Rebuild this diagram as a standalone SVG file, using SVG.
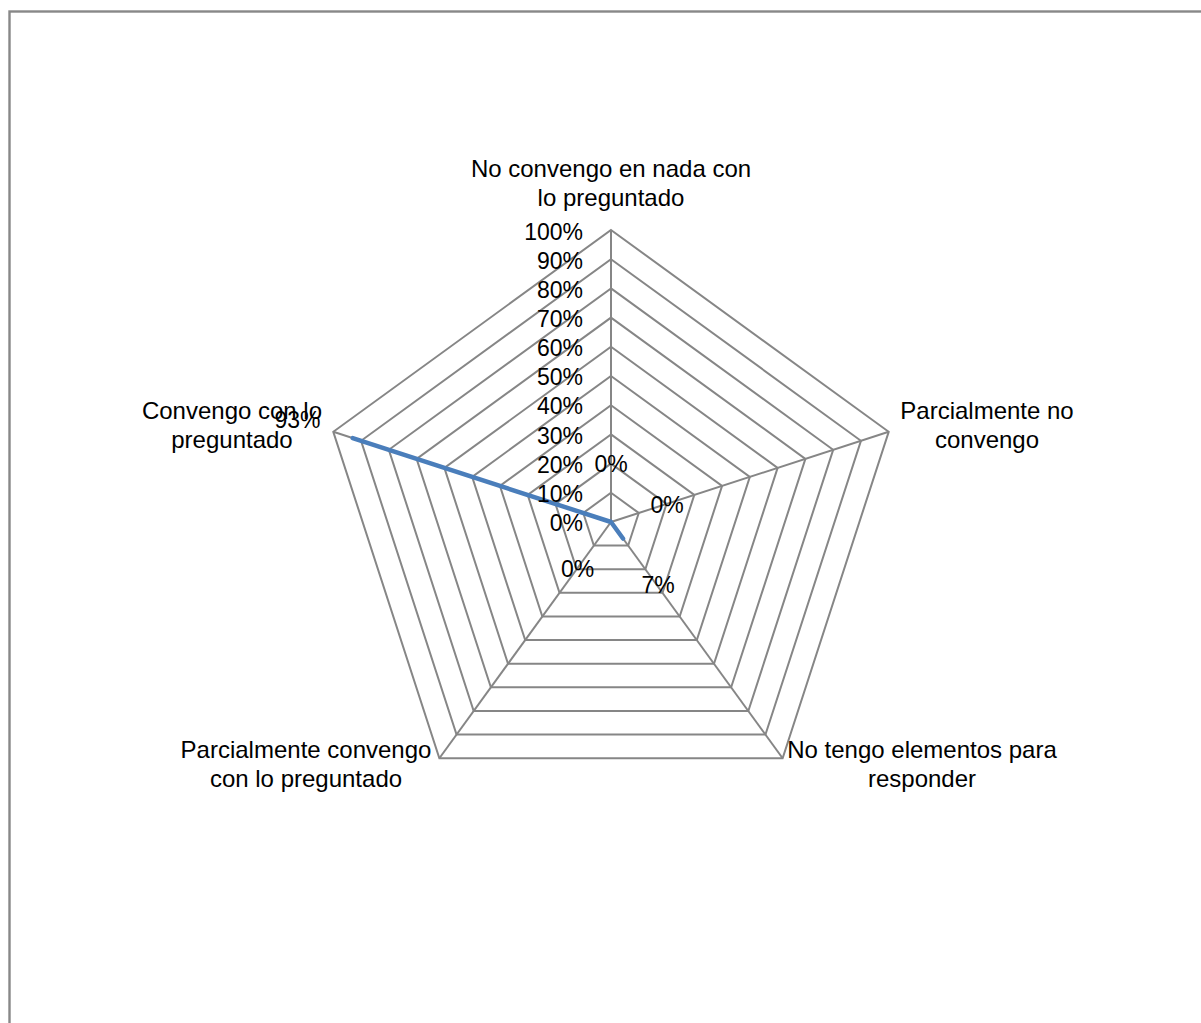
<svg xmlns="http://www.w3.org/2000/svg" width="1201" height="1023" viewBox="0 0 1201 1023">
<style>
.grid{fill:none;stroke:#868686;stroke-width:2;stroke-linejoin:miter}
.spoke{stroke:#868686;stroke-width:2}
.series{fill:none;stroke:#4A7EBB;stroke-width:4.5;stroke-linejoin:round;stroke-linecap:round}
text{font-family:"Liberation Sans",Arial,sans-serif;fill:#000}
.cat{font-size:24px;text-anchor:middle}
.tick{font-size:23px;text-anchor:end}
.val{font-size:23px;text-anchor:middle}
</style>
<rect x="0" y="0" width="1201" height="1023" fill="#fff"/>
<rect x="9.5" y="11.5" width="1300" height="1100" fill="none" stroke="#888" stroke-width="2.4"/>
<g id="grid">
<polygon class="grid" points="611,492.8 638.77,512.98 628.16,545.62 593.84,545.62 583.23,512.98"/>
<polygon class="grid" points="611,463.6 666.54,503.95 645.33,569.25 576.67,569.25 555.46,503.95"/>
<polygon class="grid" points="611,434.4 694.31,494.93 662.49,592.87 559.51,592.87 527.69,494.93"/>
<polygon class="grid" points="611,405.2 722.08,485.91 679.65,616.49 542.35,616.49 499.92,485.91"/>
<polygon class="grid" points="611,376 749.85,476.88 696.82,640.12 525.18,640.12 472.15,476.88"/>
<polygon class="grid" points="611,346.8 777.63,467.86 713.98,663.74 508.02,663.74 444.37,467.86"/>
<polygon class="grid" points="611,317.6 805.40,458.84 731.14,687.36 490.86,687.36 416.60,458.84"/>
<polygon class="grid" points="611,288.4 833.17,449.81 748.31,710.99 473.69,710.99 388.83,449.81"/>
<polygon class="grid" points="611,259.2 860.94,440.79 765.47,734.61 456.53,734.61 361.06,440.79"/>
<polygon class="grid" points="611,230 888.71,431.77 782.63,758.23 439.37,758.23 333.29,431.77"/>
</g>
<g id="connectors">
<line class="spoke" x1="611" y1="522" x2="611" y2="230"/>
<line class="spoke" x1="611" y1="522" x2="888.71" y2="431.77"/>
<line class="spoke" x1="611" y1="522" x2="782.63" y2="758.23"/>
<line class="spoke" x1="611" y1="522" x2="439.37" y2="758.23"/>
<line class="spoke" x1="611" y1="522" x2="333.29" y2="431.77"/>
<polygon class="series" points="611,522 611,522 623.01,538.54 611,522 352.73,438.08"/>
</g>
<g id="axis-labels">
<text class="tick" x="583" y="531">0%</text>
<text class="tick" x="583" y="502">10%</text>
<text class="tick" x="583" y="472.7">20%</text>
<text class="tick" x="583" y="443.5">30%</text>
<text class="tick" x="583" y="414.3">40%</text>
<text class="tick" x="583" y="385.1">50%</text>
<text class="tick" x="583" y="356">60%</text>
<text class="tick" x="583" y="326.8">70%</text>
<text class="tick" x="583" y="297.6">80%</text>
<text class="tick" x="583" y="268.5">90%</text>
<text class="tick" x="583" y="239.5">100%</text>
</g>
<g id="node-top">
<text class="cat" x="611" y="177">No convengo en nada con</text>
<text class="cat" x="611" y="206">lo preguntado</text>
<text class="val" x="611" y="472">0%</text>
</g>
<g id="node-right">
<text class="cat" x="987" y="419">Parcialmente no</text>
<text class="cat" x="987" y="448">convengo</text>
<text class="val" x="667" y="513">0%</text>
</g>
<g id="node-lower-right">
<text class="cat" x="922" y="758">No tengo elementos para</text>
<text class="cat" x="922" y="787">responder</text>
<text class="val" x="658" y="593">7%</text>
</g>
<g id="node-lower-left">
<text class="cat" x="306" y="758">Parcialmente convengo</text>
<text class="cat" x="306" y="787">con lo preguntado</text>
<text class="val" x="577.5" y="577">0%</text>
</g>
<g id="node-left">
<text class="cat" x="232" y="419">Convengo con lo</text>
<text class="cat" x="232" y="448">preguntado</text>
<text class="val" x="297.5" y="428">93%</text>
</g>
</svg>
